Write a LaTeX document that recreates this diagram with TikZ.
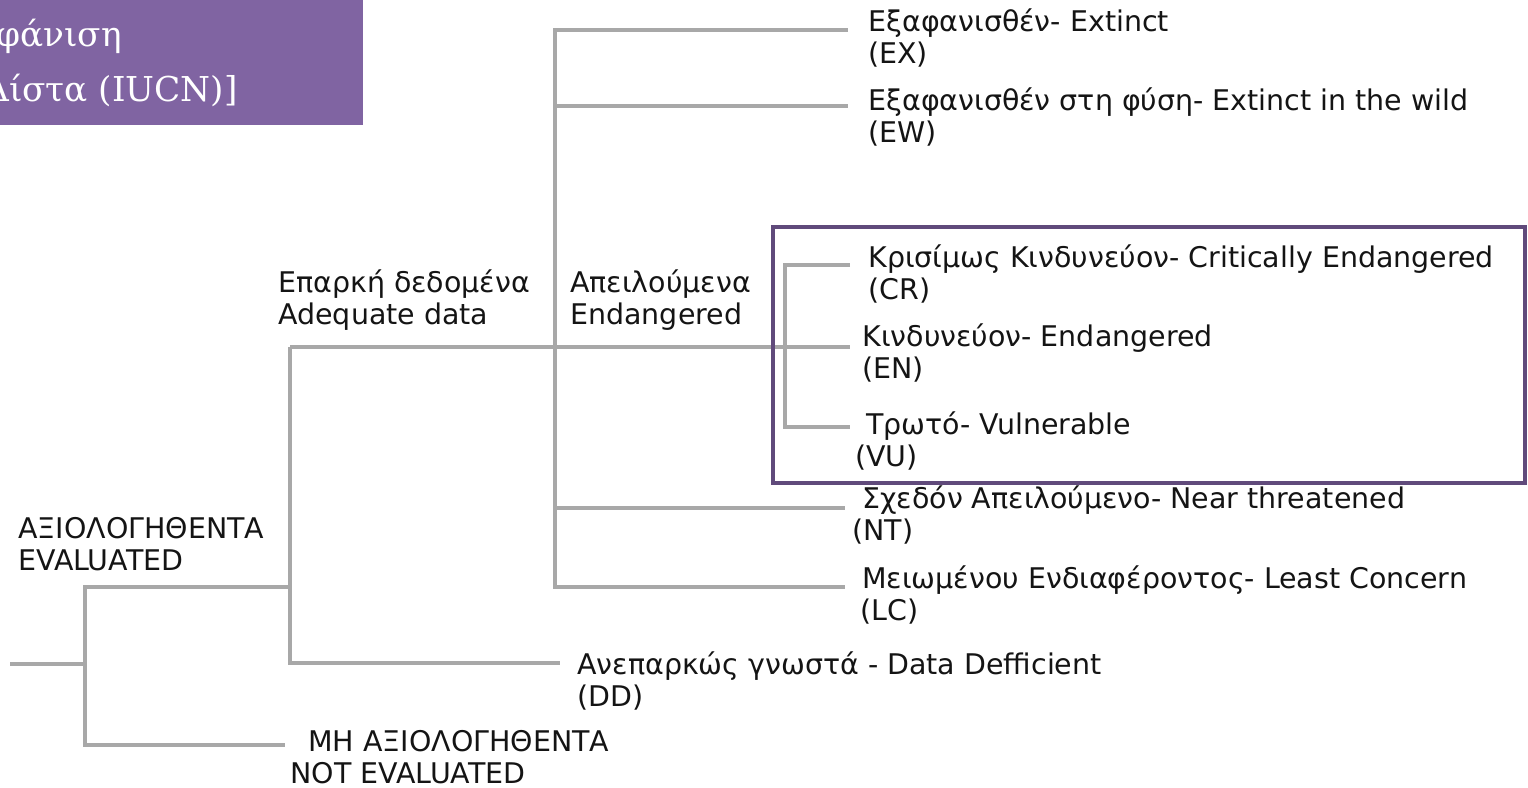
\documentclass[tikz,border=0pt]{standalone}
\usepackage{fontspec}
\setmainfont{DejaVu Sans}
\newfontfamily\boxfont{DejaVu Serif}
\usepackage{tikz}
\usetikzlibrary{positioning}
\definecolor{treegray}{RGB}{168,168,168}
\definecolor{titlepurple}{RGB}{128,100,162}
\definecolor{framepurple}{RGB}{96,74,123}
\definecolor{labelblack}{RGB}{20,20,20}
\tikzset{
  treeline/.style = {draw=treegray, line width=0.9mm},
  catlabel/.style = {anchor=west, align=left, inner sep=0pt, text=labelblack,
                     font=\fontsize{16.2}{18.2}\selectfont},
  titletext/.style = {anchor=base east, inner sep=0pt, text=white,
                      font=\boxfont\fontsize{19.5}{22}\selectfont}
}

\begin{document}
\begin{tikzpicture}[x=0.2mm, y=-0.2mm]
\useasboundingbox (0,0) rectangle (1528,788);

% title box, cut by the page edge
\fill[titlepurple] (-20,-20) rectangle (363,125);
\node[titletext] (title2) at (122,47) {φάνιση};
\node[titletext] (title3) at (238,102) {Λίστα (IUCN)]};

% junctions and free ends of the tree
\coordinate (root) at (10,664);
\coordinate (split) at (85,664);
\coordinate (evj) at (85,587);
\coordinate (nej) at (85,745);
\coordinate (nee) at (285,745);
\coordinate (evb) at (290,587);
\coordinate (adj) at (290,347);
\coordinate (ddj) at (290,663);
\coordinate (dde) at (560,663);
\coordinate (exj) at (555,30);
\coordinate (exe) at (848,30);
\coordinate (ewj) at (555,106);
\coordinate (ewe) at (848,106);
\coordinate (ene) at (850,347);
\coordinate (crj) at (785,265);
\coordinate (cre) at (850,265);
\coordinate (vuj) at (785,427);
\coordinate (vue) at (850,427);
\coordinate (ntj) at (555,508);
\coordinate (nte) at (845,508);
\coordinate (lcj) at (555,587);
\coordinate (lce) at (845,587);

\draw[treeline] (root) -- (split);
\draw[treeline] (evb) -- (evj) -- (nej) -- (nee);
\draw[treeline] (adj) -- (ddj) -- (dde);
\draw[treeline] (adj) -- (ene);
\draw[treeline] (exe) -- (exj) -- (lcj) -- (lce);
\draw[treeline] (ewj) -- (ewe);
\draw[treeline] (ntj) -- (nte);
\draw[treeline] (cre) -- (crj) -- (vuj) -- (vue);

% threatened categories frame
\draw[framepurple, line width=0.8mm] (773,227) rectangle (1525,483);

% labels
\node[catlabel] (ex) at (868,38) {Εξαφανισθέν- Extinct\\(EX)};
\node[catlabel] (ew) at (868,117) {Εξαφανισθέν στη φύση- Extinct in the wild\\(EW)};
\node[catlabel] (cr) at (868,274) {Κρισίμως Κινδυνεύον- Critically Endangered\\(CR)};
\node[catlabel] (en) at (862,353) {Κινδυνεύον- Endangered\\(EN)};
\node[catlabel] (vu) at (855,441) {\hspace*{2.2mm}Τρωτό- Vulnerable\\(VU)};
\node[catlabel] (nt) at (852,515) {\hspace*{2mm}Σχεδόν Απειλούμενο- Near threatened\\(NT)};
\node[catlabel] (lc) at (860,595) {\hspace*{0.4mm}Μειωμένου Ενδιαφέροντος- Least Concern\\(LC)};
\node[catlabel] (dd) at (577,681) {Ανεπαρκώς γνωστά - Data Defficient\\(DD)};
\node[catlabel] (adq) at (278,300) {Επαρκή δεδομένα\\Adequate data};
\node[catlabel] (thr) at (570,300) {Απειλούμενα\\Endangered};
\node[catlabel] (eva) at (18,544) {ΑΞΙΟΛΟΓΗΘΕΝΤΑ\\EVALUATED};
\node[catlabel] (nev) at (290,757) {\hspace*{3.6mm}ΜΗ ΑΞΙΟΛΟΓΗΘΕΝΤΑ\\NOT EVALUATED};
\end{tikzpicture}
\end{document}
